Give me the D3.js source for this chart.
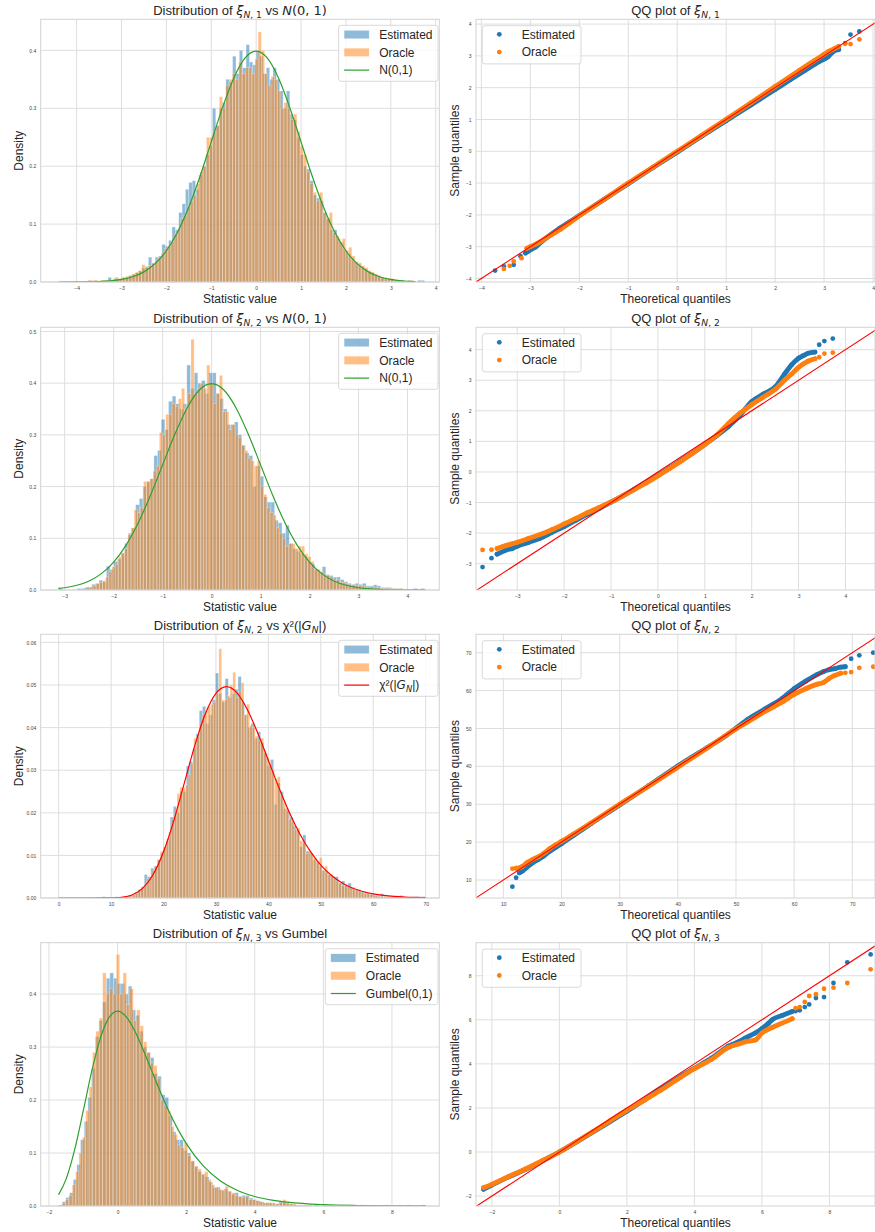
<!DOCTYPE html>
<html><head><meta charset="utf-8">
<script src="https://cdn.jsdelivr.net/npm/d3@7"></script>
<style>
body{margin:0;background:#fff}
svg{display:block}
</style>
</head><body>
<svg id="c" width="875" height="1232"></svg>
<script>
// ---------------- DATA ----------------
// Panel 1: ξN,1 histogram vs N(0,1)
const h1EstStart = -3.75, h1EstWidth = 0.075;
const h1Est = [0.003,0,0.003,0,0.003,0.003,0.008,0.003,0.008,0.005,
 0.008,0.008,0.011,0.013,0.016,0.019,0.024,0.027,0.043,0.032,
 0.043,0.045,0.065,0.062,0.072,0.095,0.09,0.12,0.135,0.16,
 0.172,0.175,0.16,0.185,0.2,0.22,0.235,0.30,0.27,0.30,
 0.31,0.35,0.345,0.39,0.36,0.40,0.37,0.41,0.38,0.375,
 0.40,0.39,0.36,0.37,0.35,0.37,0.35,0.33,0.30,0.33,
 0.29,0.28,0.25,0.22,0.20,0.195,0.175,0.15,0.145,0.14,
 0.12,0.11,0.09,0.09,0.075,0.068,0.055,0.048,0.04,0.035,
 0.03,0.027,0.022,0.016,0.016,0.011,0.011,0.008,0.005,0.005,
 0.005,0.003,0.003,0.003,0,0.003,0,0,0.003,0.003];
const h1OrcStart = -3.70, h1OrcWidth = 0.072;
const h1Orc = [0.003,0.003,0,0.003,0.003,0.003,0.003,0.006,0.006,0.006,
 0.008,0.01,0.011,0.014,0.017,0.02,0.03,0.025,0.028,0.033,
 0.036,0.042,0.05,0.058,0.062,0.07,0.083,0.092,0.11,0.115,
 0.13,0.14,0.15,0.17,0.19,0.2,0.25,0.25,0.26,0.27,
 0.32,0.30,0.34,0.35,0.36,0.35,0.38,0.36,0.37,0.37,
 0.36,0.385,0.432,0.40,0.36,0.34,0.355,0.35,0.33,0.30,
 0.31,0.30,0.28,0.29,0.26,0.235,0.22,0.19,0.17,0.155,
 0.14,0.155,0.12,0.11,0.12,0.085,0.08,0.07,0.075,0.055,
 0.06,0.045,0.035,0.033,0.028,0.025,0.02,0.017,0.014,0.011,
 0.008,0.008,0.006,0.006,0.003,0.003,0.003,0,0,0.003];
const curve1X = [-4.4,-4.0,-3.75,-3.5,-3.25,-3.0,-2.75,-2.5,-2.25,-2.0,-1.75,-1.5,-1.25,-1.0,-0.75,-0.5,-0.25,0,0.25,0.5,0.75,1.0,1.25,1.5,1.75,2.0,2.25,2.5,2.75,3.0,3.25,3.55];
const curve1Y = [0.00003,0.00013,0.00035,0.00087,0.002,0.0044,0.0091,0.0175,0.0317,0.054,0.0863,0.1295,0.1826,0.242,0.3011,0.3521,0.3867,0.3989,0.3867,0.3521,0.3011,0.242,0.1826,0.1295,0.0863,0.054,0.0317,0.0175,0.0091,0.0044,0.002,0.00074];

// Panel 3: ξN,2 histogram vs N(0,1)
const h3EstStart = -3.12, h3EstWidth = 0.0747;
const h3Est = [0.003,0,0,0,0,0.003,0.003,0.005,0.005,0.011,
 0.013,0.019,0.016,0.046,0.04,0.055,0.06,0.072,0.09,0.11,
 0.12,0.165,0.177,0.2,0.21,0.215,0.26,0.27,0.33,0.31,
 0.365,0.375,0.36,0.35,0.36,0.435,0.39,0.42,0.40,0.405,
 0.38,0.42,0.42,0.38,0.37,0.35,0.32,0.32,0.325,0.30,
 0.28,0.265,0.26,0.20,0.24,0.22,0.18,0.17,0.17,0.135,
 0.13,0.11,0.125,0.09,0.08,0.075,0.07,0.065,0.055,0.05,
 0.04,0.035,0.045,0.03,0.028,0.025,0.025,0.02,0.016,0.013,
 0.011,0.013,0.011,0.013,0.008,0.008,0.01,0.008,0.005,0.005,
 0.005,0.003,0.003,0.003,0,0,0,0.003,0,0.003];
const h3OrcStart = -2.55, h3OrcWidth = 0.0645;
const h3Orc = [0.006,0.006,0.008,0.012,0.015,0.018,0.025,0.035,0.045,0.05,
 0.065,0.07,0.08,0.107,0.12,0.155,0.15,0.16,0.21,0.21,
 0.215,0.23,0.24,0.305,0.30,0.34,0.34,0.36,0.355,0.37,
 0.39,0.35,0.38,0.485,0.38,0.39,0.40,0.39,0.435,0.40,
 0.36,0.38,0.415,0.345,0.345,0.31,0.32,0.30,0.295,0.28,
 0.27,0.255,0.25,0.24,0.25,0.20,0.185,0.16,0.15,0.145,
 0.12,0.11,0.1,0.085,0.09,0.09,0.08,0.085,0.085,0.07,
 0.065,0.055,0.04,0.04,0.035,0.03,0.028,0.025,0.018,0.02,
 0.015,0.015,0.012,0.01,0.01,0.008,0.008,0.008,0.006,0.006,
 0.006,0.005,0.005,0.003,0.003,0.003,0.003,0.003,0,0.003];
const curve3X = [-3.13,-3.0,-2.75,-2.5,-2.25,-2.0,-1.75,-1.5,-1.25,-1.0,-0.75,-0.5,-0.25,0,0.25,0.5,0.75,1.0,1.25,1.5,1.75,2.0,2.25,2.5,2.75,3.0,3.25,3.5,3.75,4.0,4.37];
const curve3Y = [0.003,0.0044,0.0091,0.0175,0.0317,0.054,0.0863,0.1295,0.1826,0.242,0.3011,0.3521,0.3867,0.3989,0.3867,0.3521,0.3011,0.242,0.1826,0.1295,0.0863,0.054,0.0317,0.0175,0.0091,0.0044,0.002,0.00087,0.00035,0.00013,0.00003];

// Panel 5: ξN,2 histogram vs chi-square
const h5EstStart = 8.3, h5EstWidth = 0.617;
const h5Est = [0.0003,0,0,0,0.0003,0,0.0003,0.0003,0.0006,0.0006,
 0.0013,0.002,0.0026,0.0055,0.005,0.007,0.0075,0.009,0.0105,0.012,
 0.014,0.019,0.0215,0.02,0.025,0.025,0.031,0.032,0.035,0.0385,
 0.044,0.045,0.041,0.043,0.0465,0.0528,0.048,0.046,0.0515,0.047,
 0.048,0.049,0.052,0.046,0.043,0.04,0.041,0.0375,0.039,0.0365,
 0.034,0.031,0.0325,0.022,0.027,0.025,0.021,0.0205,0.019,0.017,
 0.016,0.012,0.0148,0.011,0.0105,0.009,0.0085,0.0075,0.0065,0.006,
 0.0055,0.005,0.005,0.0035,0.004,0.003,0.0035,0.0025,0.002,0.002,
 0.0015,0.0015,0.001,0.001,0.0006,0.0006,0.001,0.0003,0.0003,0.0003,
 0.0003,0.0003,0.0006,0,0,0,0,0.0003,0,0.0003];
const h5OrcStart = 13.0, h5OrcWidth = 0.532;
const h5Orc = [0.0004,0.0004,0.0008,0.0011,0.0019,0.0023,0.003,0.0045,0.005,0.0065,
 0.0075,0.009,0.011,0.012,0.0135,0.0155,0.0185,0.02,0.0245,0.026,
 0.026,0.0265,0.029,0.0315,0.0375,0.038,0.041,0.043,0.044,0.045,
 0.0455,0.046,0.048,0.0585,0.0465,0.0465,0.0475,0.05,0.053,0.047,
 0.0485,0.0505,0.043,0.0455,0.0405,0.04,0.038,0.037,0.0375,0.0345,
 0.033,0.0315,0.03,0.028,0.0285,0.024,0.0225,0.021,0.0185,0.018,
 0.016,0.0165,0.0135,0.013,0.0105,0.011,0.0105,0.0095,0.0085,0.0095,
 0.0065,0.0075,0.0055,0.0055,0.0045,0.004,0.0035,0.003,0.003,0.0028,
 0.0025,0.002,0.0018,0.0015,0.0012,0.001,0.0012,0.0008,0.0008,0.0006,
 0.0004,0.0004,0.0004,0.0004,0,0,0.0004,0,0,0.0004];
const curve5X = [0,6,10,12,14,16,18,20,22,24,26,28,30,32,34,36,38,40,42,44,46,48,50,52,54,56,58,60,62,64,66,68,70];
const curve5Y = [0,0,0.00002,0.00017,0.00072,0.00226,0.00547,0.01086,0.01835,0.02716,0.03594,0.04329,0.04802,0.0496,0.04816,0.0442,0.03862,0.03229,0.02594,0.02008,0.01504,0.01093,0.00773,0.00533,0.00358,0.00236,0.00152,0.00096,0.0006,0.00037,0.00022,0.00013,0.00008];

// Panel 7: ξN,3 histogram vs Gumbel
const h7EstStart = -1.72, h7EstWidth = 0.107;
const h7Est = [0.002,0.008,0.016,0.025,0.05,0.078,0.125,0.16,0.205,0.26,
 0.32,0.35,0.385,0.43,0.44,0.43,0.42,0.42,0.40,0.415,
 0.37,0.36,0.33,0.30,0.29,0.28,0.25,0.245,0.21,0.205,
 0.17,0.14,0.125,0.125,0.105,0.10,0.085,0.075,0.065,0.06,
 0.055,0.045,0.035,0.036,0.03,0.032,0.028,0.022,0.025,0.018,
 0.02,0.02,0.015,0.012,0.01,0.008,0.006,0.006,0.006,0.004,
 0.008,0.006,0.004,0.004,0.002,0.002,0.002,0.002,0.002,0,
 0.002,0,0.002,0,0.002,0,0,0,0,0,
 0,0,0.002,0,0,0,0,0,0,0.002,
 0,0,0,0,0,0.002,0,0,0,0.002];
const h7OrcStart = -1.62, h7OrcWidth = 0.099;
const h7Orc = [0.005,0.012,0.02,0.04,0.065,0.1,0.13,0.18,0.225,0.29,
 0.33,0.355,0.44,0.40,0.41,0.40,0.475,0.40,0.44,0.38,
 0.41,0.35,0.37,0.34,0.31,0.29,0.27,0.265,0.24,0.2,
 0.19,0.18,0.15,0.135,0.115,0.11,0.12,0.095,0.085,0.075,
 0.07,0.06,0.065,0.05,0.04,0.035,0.032,0.03,0.037,0.028,
 0.025,0.02,0.018,0.016,0.018,0.012,0.012,0.01,0.008,0.006,
 0.006,0.006,0.004,0.004,0.006,0.012,0.008,0.004,0.004,0.002,
 0.002,0.002,0.002,0,0.002,0,0,0,0.002,0,
 0,0,0,0,0,0.002,0,0,0,0,
 0,0,0,0,0,0,0,0,0,0.002];
const curve7X = [-1.72,-1.5,-1.25,-1.0,-0.75,-0.5,-0.25,0,0.25,0.5,0.75,1.0,1.25,1.5,1.75,2.0,2.5,3.0,3.5,4.0,4.5,5.0,6.0,7.0,8.0,8.98];
const curve7Y = [0.021,0.0507,0.1064,0.1794,0.2549,0.317,0.3556,0.3679,0.3574,0.3307,0.2945,0.2546,0.2151,0.1785,0.146,0.1182,0.0756,0.0474,0.0293,0.018,0.011,0.0067,0.0025,0.0009,0.00034,0.00013];

// QQ plots: [theoretical, sample]; core = theoretical range where points are dense
const qq2Est = [[-3.72,-3.75],[-3.54,-3.62],[-3.34,-3.57],[-3.2,-3.3],[-3.1,-3.2],[-3.05,-3.15],[-3.0,-3.1],[-2.9,-3.02],[-2.8,-2.88],[-2.6,-2.64],[-2.4,-2.42],[-2.2,-2.22],[-2.0,-2.02],[-1.5,-1.52],[-1.0,-1.02],[-0.5,-0.52],[0,-0.03],[0.5,0.47],[1.0,0.96],[1.5,1.45],[2.0,1.94],[2.3,2.24],[2.6,2.53],[2.9,2.82],[3.08,2.97],[3.2,3.15],[3.3,3.2],[3.43,3.40],[3.54,3.67],[3.72,3.77]];
const qq2EstCore = [-3.1, 3.3];
const qq2Orc = [[-3.54,-3.7],[-3.42,-3.6],[-3.34,-3.46],[-3.18,-3.36],[-3.07,-3.05],[-3.0,-3.0],[-2.8,-2.85],[-2.6,-2.65],[-2.4,-2.47],[-2.2,-2.25],[-2.0,-2.03],[-1.5,-1.52],[-1.0,-1.0],[-0.5,-0.5],[0,0.0],[0.5,0.5],[1.0,1.01],[1.5,1.52],[2.0,2.04],[2.5,2.55],[2.8,2.85],[3.0,3.05],[3.08,3.13],[3.2,3.22],[3.3,3.3],[3.43,3.38],[3.54,3.37],[3.72,3.52]];
const qq2OrcCore = [-3.07, 3.3];

const qq4Est = [[-3.74,-3.11],[-3.55,-2.82],[-3.43,-2.69],[-3.23,-2.55],[-3.1,-2.5],[-3.0,-2.43],[-2.75,-2.3],[-2.5,-2.16],[-2.25,-1.97],[-2.0,-1.79],[-1.75,-1.58],[-1.5,-1.38],[-1.25,-1.19],[-1.0,-0.99],[-0.75,-0.78],[-0.5,-0.56],[-0.25,-0.33],[0,-0.1],[0.25,0.13],[0.5,0.38],[0.75,0.63],[1.0,0.9],[1.25,1.18],[1.5,1.48],[1.75,1.85],[2.0,2.3],[2.25,2.55],[2.5,2.78],[2.7,3.2],[2.85,3.5],[3.0,3.72],[3.1,3.8],[3.2,3.88],[3.35,3.92],[3.44,4.16],[3.55,4.28],[3.73,4.36]];
const qq4EstCore = [-3.43, 3.35];
const qq4Orc = [[-3.74,-2.55],[-3.55,-2.54],[-3.43,-2.5],[-3.23,-2.4],[-3.0,-2.3],[-2.75,-2.17],[-2.5,-2.04],[-2.25,-1.88],[-2.0,-1.7],[-1.75,-1.52],[-1.5,-1.33],[-1.25,-1.16],[-1.0,-0.98],[-0.75,-0.78],[-0.5,-0.57],[-0.25,-0.36],[0,-0.13],[0.25,0.11],[0.5,0.36],[0.75,0.62],[1.0,0.9],[1.25,1.2],[1.5,1.58],[1.75,1.92],[2.0,2.2],[2.25,2.45],[2.5,2.7],[2.7,3.0],[2.85,3.2],[3.0,3.42],[3.2,3.62],[3.35,3.7],[3.44,3.75],[3.55,3.87],[3.73,3.90]];
const qq4OrcCore = [-3.43, 3.35];

const qq6Est = [[11.55,8.24],[12.2,10.6],[12.75,11.9],[13.3,12.4],[14,13.3],[15,14.5],[16,15.4],[17,16.4],[18,17.6],[19,18.6],[20,19.6],[22,21.7],[25,24.8],[30,29.8],[35,34.9],[40,40.1],[45,44.9],[48,47.8],[50,50.1],[52,52.4],[55,55.2],[58,58.0],[60,60.5],[62,62.5],[64,64.3],[65,65.0],[66,65.5],[67,65.8],[68,66.2],[68.8,66.3],[69.8,68.4],[71.2,69.3],[73.6,70.0]];
const qq6EstCore = [12.75, 68.8];
const qq6Orc = [[11.55,13.0],[12.2,13.1],[12.75,13.2],[13.3,13.6],[14,14.5],[15,15.4],[16,16.1],[17,17.1],[18,18.3],[19,19.3],[20,20.2],[22,22.1],[25,25.0],[30,30.0],[35,34.8],[40,39.8],[45,44.8],[48,47.9],[50,49.9],[52,51.7],[55,54.5],[58,57.0],[60,59.0],[62,60.5],[64,61.7],[65,62.1],[66,63.2],[67,64.0],[68,64.6],[68.8,64.7],[69.8,64.9],[71.2,66.0],[73.6,66.3]];
const qq6OrcCore = [12.2, 68.0];

const qq8Est = [[-2.25,-1.69],[-2.0,-1.5],[-1.5,-1.13],[-1.0,-0.79],[-0.5,-0.4],[0,0.0],[0.5,0.45],[1.0,0.91],[1.5,1.38],[2.0,1.85],[2.5,2.35],[3.0,2.87],[3.5,3.35],[4.0,3.8],[4.5,4.25],[5.0,4.8],[5.3,5.0],[5.5,5.17],[5.8,5.4],[6.0,5.6],[6.2,5.85],[6.3,6.0],[6.6,6.2],[6.9,6.38],[7.0,6.4],[7.12,6.43],[7.27,6.58],[7.4,6.7],[7.6,6.99],[7.84,7.03],[8.12,7.67],[8.53,8.61],[9.22,8.97]];
const qq8EstCore = [-2.25, 6.9];
const qq8Orc = [[-2.25,-1.62],[-2.0,-1.47],[-1.5,-1.11],[-1.0,-0.77],[-0.5,-0.39],[0,0.0],[0.5,0.46],[1.0,0.93],[1.5,1.42],[2.0,1.9],[2.5,2.33],[3.0,2.8],[3.5,3.3],[4.0,3.78],[4.5,4.2],[5.0,4.74],[5.3,4.9],[5.5,5.0],[5.8,5.08],[6.0,5.4],[6.3,5.65],[6.6,5.85],[6.9,6.05],[7.0,6.53],[7.12,6.58],[7.27,6.81],[7.4,7.08],[7.6,7.16],[7.84,7.41],[8.12,7.46],[8.53,7.67],[9.22,8.29]];
const qq8OrcCore = [-2.25, 6.9];

// Tick values
const p1XTicks = [-4,-3,-2,-1,0,1,2,3,4], p1YTicks = [0,0.1,0.2,0.3,0.4];
const p2XTicks = [-4,-3,-2,-1,0,1,2,3,4], p2YTicks = [-4,-3,-2,-1,0,1,2,3,4];
const p3XTicks = [-3,-2,-1,0,1,2,3,4], p3YTicks = [0,0.1,0.2,0.3,0.4,0.5];
const p4XTicks = [-3,-2,-1,0,1,2,3,4], p4YTicks = [-3,-2,-1,0,1,2,3,4];
const p5XTicks = [0,10,20,30,40,50,60,70], p5YTicks = [0,0.01,0.02,0.03,0.04,0.05,0.06];
const p6XTicks = [10,20,30,40,50,60,70], p6YTicks = [10,20,30,40,50,60,70];
const p7XTicks = [-2,0,2,4,6,8], p7YTicks = [0,0.1,0.2,0.3,0.4];
const p8XTicks = [-2,0,2,4,6,8], p8YTicks = [-2,0,2,4,6,8];

// Text (segments: [text, style])  style: "" plain, "m" math, "mi" math italic, "s" subscript variants
const legendHist = ["Estimated", "Oracle"];
const legendQQ = ["Estimated", "Oracle"];
const titles = [
 [["Distribution of ",""],["ξ","mi"],["N","smi"],[", 1","sm"],[" vs ",""],["N","mi"],["(0, 1)","m"]],
 [["QQ plot of ",""],["ξ","mi"],["N","smi"],[", 1","sm"]],
 [["Distribution of ",""],["ξ","mi"],["N","smi"],[", 2","sm"],[" vs ",""],["N","mi"],["(0, 1)","m"]],
 [["QQ plot of ",""],["ξ","mi"],["N","smi"],[", 2","sm"]],
 [["Distribution of ",""],["ξ","mi"],["N","smi"],[", 2","sm"],[" vs χ²(|",""],["G","mi"],["N","smi"],["|)",""]],
 [["QQ plot of ",""],["ξ","mi"],["N","smi"],[", 2","sm"]],
 [["Distribution of ",""],["ξ","mi"],["N","smi"],[", 3","sm"],[" vs Gumbel",""]],
 [["QQ plot of ",""],["ξ","mi"],["N","smi"],[", 3","sm"]]
];
const curveLabels = [
 [["N(0,1)",""]],
 [["N(0,1)",""]],
 [["χ²(|",""],["G","mi"],["N","smi"],["|)",""]],
 [["Gumbel(0,1)",""]]
];

// ---------------- DRAWING ----------------
const C_BLUE = "#1f77b4", C_ORANGE = "#ff7f0e", C_GREEN = "#2ca02c", C_RED = "#ff0000";
const FONT = "'Liberation Sans', Arial, sans-serif";
const MATH = "'DejaVu Sans', sans-serif";
const TXT = "#262626";
const svg = d3.select("#c");
const colL = {l: 40.7, r: 439.3}, colR = {l: 476, r: 875};
const rows = [{t: 19.3, b: 282}, {t: 327.3, b: 590}, {t: 634.3, b: 898}, {t: 942.7, b: 1206}];
let clipN = 0;

function richText(sel, segs, size) {
  let inSub = false;
  const shift = size * 0.2;
  segs.forEach(([t, st]) => {
    const sub = st.startsWith("s");
    const core = sub ? st.slice(1) : st;
    const ts = sel.append("tspan").text(t);
    ts.attr("font-family", core.startsWith("m") ? MATH : FONT);
    if (core === "mi") ts.attr("font-style", "italic");
    ts.attr("font-size", sub ? size * 0.7 : size);
    if (sub && !inSub) ts.attr("dy", shift);
    if (!sub && inSub) ts.attr("dy", -shift);
    inSub = sub;
  });
}

function makePanel(col, row, xd, yd, xt, yt, xfmt, yfmt, title, xlabel, ylabel) {
  const box = {l: col.l, r: col.r, t: row.t, b: row.b};
  const x = d3.scaleLinear().domain(xd).range([box.l, box.r]);
  const y = d3.scaleLinear().domain(yd).range([box.b, box.t]);
  const g = svg.append("g");
  // grid
  g.append("g").selectAll("line").data(xt).join("line")
    .attr("x1", d => x(d)).attr("x2", d => x(d)).attr("y1", box.t).attr("y2", box.b)
    .attr("stroke", "#dedede").attr("stroke-width", 1);
  g.append("g").selectAll("line").data(yt).join("line")
    .attr("y1", d => y(d)).attr("y2", d => y(d)).attr("x1", box.l).attr("x2", box.r)
    .attr("stroke", "#dedede").attr("stroke-width", 1);
  // axes labels
  const ax = g.append("g").attr("transform", `translate(0,${box.b})`)
    .call(d3.axisBottom(x).tickValues(xt).tickFormat(xfmt).tickSize(0).tickPadding(4.8));
  ax.select(".domain").remove();
  ax.attr("font-size", 5).attr("font-family", FONT);
  ax.selectAll("text").attr("fill", "#444");
  const ay = g.append("g").attr("transform", `translate(${box.l},0)`)
    .call(d3.axisLeft(y).tickValues(yt).tickFormat(yfmt).tickSize(0).tickPadding(4.5));
  ay.select(".domain").remove();
  ay.attr("font-size", 5).attr("font-family", FONT);
  ay.selectAll("text").attr("fill", "#444");
  // clip
  const id = "clip" + (clipN++);
  svg.append("clipPath").attr("id", id).append("rect")
    .attr("x", box.l).attr("y", box.t).attr("width", box.r - box.l).attr("height", box.b - box.t);
  const plot = svg.append("g").attr("clip-path", `url(#${id})`);
  // title
  const tt = svg.append("text").attr("x", (box.l + box.r) / 2).attr("y", box.t - 4.3)
    .attr("text-anchor", "middle").attr("fill", TXT);
  richText(tt, title, 13);
  svg.append("text").attr("x", (box.l + box.r) / 2).attr("y", box.b + 20.7)
    .attr("text-anchor", "middle").attr("font-family", FONT).attr("font-size", 12).attr("fill", TXT).text(xlabel);
  const yl = (box.l === colL.l) ? 22.6 : box.l - 16.9;
  svg.append("text").attr("transform", `translate(${yl},${(box.t + box.b) / 2}) rotate(-90)`)
    .attr("text-anchor", "middle").attr("font-family", FONT).attr("font-size", 12).attr("fill", TXT).text(ylabel);
  return {box, x, y, plot, over: svg.append("g")};
}

function spines(p) {
  p.over.append("rect").attr("x", p.box.l).attr("y", p.box.t)
    .attr("width", p.box.r - p.box.l).attr("height", p.box.b - p.box.t)
    .attr("fill", "none").attr("stroke", "#d2d2d2").attr("stroke-width", 1);
}

function hist(p, start, width, vals, color) {
  const data = vals.map((v, i) => ({x0: start + i * width, x1: start + (i + 1) * width, v})).filter(d => d.v > 0);
  p.plot.append("g").selectAll("rect").data(data).join("rect")
    .attr("x", d => p.x(d.x0)).attr("width", d => p.x(d.x1) - p.x(d.x0))
    .attr("y", d => p.y(d.v)).attr("height", d => p.y(0) - p.y(d.v))
    .attr("fill", color).attr("fill-opacity", 0.5)
    .attr("stroke", "#fff").attr("stroke-opacity", 0.5).attr("stroke-width", 0.5);
}

function curve(p, xs, ys, color) {
  const pts = xs.map((v, i) => [v, ys[i]]);
  p.plot.append("path").datum(pts)
    .attr("d", d3.line().x(d => p.x(d[0])).y(d => p.y(d[1])).curve(d3.curveMonotoneX))
    .attr("fill", "none").attr("stroke", color).attr("stroke-width", 1.2);
}

function qq(p, pts, core, color) {
  const corePts = pts.filter(d => d[0] >= core[0] && d[0] <= core[1]);
  p.plot.append("path").datum(corePts)
    .attr("d", d3.line().x(d => p.x(d[0])).y(d => p.y(d[1])).curve(d3.curveMonotoneX))
    .attr("fill", "none").attr("stroke", color).attr("stroke-width", 4.8)
    .attr("stroke-linecap", "round").attr("stroke-linejoin", "round");
  p.plot.append("g").selectAll("circle").data(pts).join("circle")
    .attr("cx", d => p.x(d[0])).attr("cy", d => p.y(d[1])).attr("r", 2.4).attr("fill", color);
}

function refLine(p) {
  const lo = Math.min(p.x.domain()[0], p.y.domain()[0]) - 1;
  const hi = Math.max(p.x.domain()[1], p.y.domain()[1]) + 1;
  p.plot.append("line").attr("x1", p.x(lo)).attr("y1", p.y(lo)).attr("x2", p.x(hi)).attr("y2", p.y(hi))
    .attr("stroke", C_RED).attr("stroke-width", 1.1);
}

function legendFrame(g, x, y, w, h) {
  g.insert("rect", ":first-child").attr("x", x).attr("y", y).attr("width", w).attr("height", h)
    .attr("rx", 2.5).attr("fill", "#fff").attr("fill-opacity", 0.8)
    .attr("stroke", "#cfcfcf").attr("stroke-width", 0.8);
}

function histLegend(p, labels, curveLabel, curveColor) {
  const g = p.over.append("g");
  const top = p.box.t + 6, rowH = 17.8;
  const texts = [];
  labels.forEach((lab, i) => {
    const t = g.append("text").attr("y", top + 9.2 + rowH * i + 4.3).attr("font-family", FONT)
      .attr("font-size", 12).attr("fill", TXT).text(lab);
    texts.push(t);
  });
  const ct = g.append("text").attr("y", top + 9.2 + rowH * 2 + 4.3).attr("fill", TXT);
  richText(ct, curveLabel, 12);
  texts.push(ct);
  const maxW = d3.max(texts, t => t.node().getComputedTextLength());
  const w = 40.5 + maxW + 5.5, h = rowH * 3 + 2.6;
  const left = p.box.r - 1.3 - w;
  texts.forEach(t => t.attr("x", left + 40.5));
  [C_BLUE, C_ORANGE].forEach((c, i) => {
    g.append("rect").attr("x", left + 5.5).attr("width", 25).attr("y", top + 9.2 + rowH * i - 4.1).attr("height", 8.3)
      .attr("fill", c).attr("fill-opacity", 0.5).attr("stroke", "#fff").attr("stroke-opacity", 0.5).attr("stroke-width", 0.5);
  });
  g.append("line").attr("x1", left + 5.5).attr("x2", left + 30.5)
    .attr("y1", top + 9.2 + rowH * 2).attr("y2", top + 9.2 + rowH * 2)
    .attr("stroke", curveColor).attr("stroke-width", 1.2);
  legendFrame(g, left, top, w, h);
}

function qqLegend(p, labels) {
  const g = p.over.append("g");
  const left = p.box.l + 6.3, top = p.box.t + 6.4, rowH = 17.8;
  const texts = labels.map((lab, i) => g.append("text").attr("x", left + 39.4).attr("y", top + 8.6 + rowH * i + 4.3)
    .attr("font-family", FONT).attr("font-size", 12).attr("fill", TXT).text(lab));
  [C_BLUE, C_ORANGE].forEach((c, i) => {
    g.append("circle").attr("cx", left + 17).attr("cy", top + 8.6 + rowH * i).attr("r", 2.4).attr("fill", c);
  });
  const maxW = d3.max(texts, t => t.node().getComputedTextLength());
  legendFrame(g, left, top, 39.4 + maxW + 6, rowH * 2 + 2.6);
}

const fInt = d3.format("d"), f1 = d3.format(".1f"), f2 = d3.format(".2f");

// Row 1
let p = makePanel(colL, rows[0], [-4.8, 4.08], [0, 0.4537], p1XTicks, p1YTicks, fInt, f1, titles[0], "Statistic value", "Density");
hist(p, h1EstStart, h1EstWidth, h1Est, C_BLUE); hist(p, h1OrcStart, h1OrcWidth, h1Orc, C_ORANGE);
curve(p, curve1X, curve1Y, C_GREEN); spines(p); histLegend(p, legendHist, curveLabels[0], C_GREEN);

p = makePanel(colR, rows[0], [-4.11, 4.04], [-4.11, 4.15], p2XTicks, p2YTicks, fInt, fInt, titles[1], "Theoretical quantiles", "Sample quantiles");
qq(p, qq2Est, qq2EstCore, C_BLUE); qq(p, qq2Orc, qq2OrcCore, C_ORANGE); refLine(p); spines(p); qqLegend(p, legendQQ);

// Row 2
p = makePanel(colL, rows[1], [-3.49, 4.65], [0, 0.508], p3XTicks, p3YTicks, fInt, f1, titles[2], "Statistic value", "Density");
hist(p, h3EstStart, h3EstWidth, h3Est, C_BLUE); hist(p, h3OrcStart, h3OrcWidth, h3Orc, C_ORANGE);
curve(p, curve3X, curve3Y, C_GREEN); spines(p); histLegend(p, legendHist, curveLabels[1], C_GREEN);

p = makePanel(colR, rows[1], [-3.88, 4.63], [-3.86, 4.73], p4XTicks, p4YTicks, fInt, fInt, titles[3], "Theoretical quantiles", "Sample quantiles");
qq(p, qq4Est, qq4EstCore, C_BLUE); qq(p, qq4Orc, qq4OrcCore, C_ORANGE); refLine(p); spines(p); qqLegend(p, legendQQ);

// Row 3
p = makePanel(colL, rows[2], [-3.43, 72.6], [0, 0.0619], p5XTicks, p5YTicks, fInt, f2, titles[4], "Statistic value", "Density");
hist(p, h5EstStart, h5EstWidth, h5Est, C_BLUE); hist(p, h5OrcStart, h5OrcWidth, h5Orc, C_ORANGE);
curve(p, curve5X, curve5Y, C_RED); spines(p); histLegend(p, legendHist, curveLabels[2], C_RED);

p = makePanel(colR, rows[2], [5.3, 73.9], [5.25, 74.86], p6XTicks, p6YTicks, fInt, fInt, titles[5], "Theoretical quantiles", "Sample quantiles");
qq(p, qq6Est, qq6EstCore, C_BLUE); qq(p, qq6Orc, qq6OrcCore, C_ORANGE); refLine(p); spines(p); qqLegend(p, legendQQ);

// Row 4
p = makePanel(colL, rows[3], [-2.24, 9.38], [0, 0.497], p7XTicks, p7YTicks, fInt, f1, titles[6], "Statistic value", "Density");
hist(p, h7EstStart, h7EstWidth, h7Est, C_BLUE); hist(p, h7OrcStart, h7OrcWidth, h7Orc, C_ORANGE);
curve(p, curve7X, curve7Y, C_GREEN); spines(p); histLegend(p, legendHist, curveLabels[3], C_GREEN);

p = makePanel(colR, rows[3], [-2.47, 9.35], [-2.45, 9.5], p8XTicks, p8YTicks, fInt, fInt, titles[7], "Theoretical quantiles", "Sample quantiles");
qq(p, qq8Est, qq8EstCore, C_BLUE); qq(p, qq8Orc, qq8OrcCore, C_ORANGE); refLine(p); spines(p); qqLegend(p, legendQQ);
</script>
</body></html>
